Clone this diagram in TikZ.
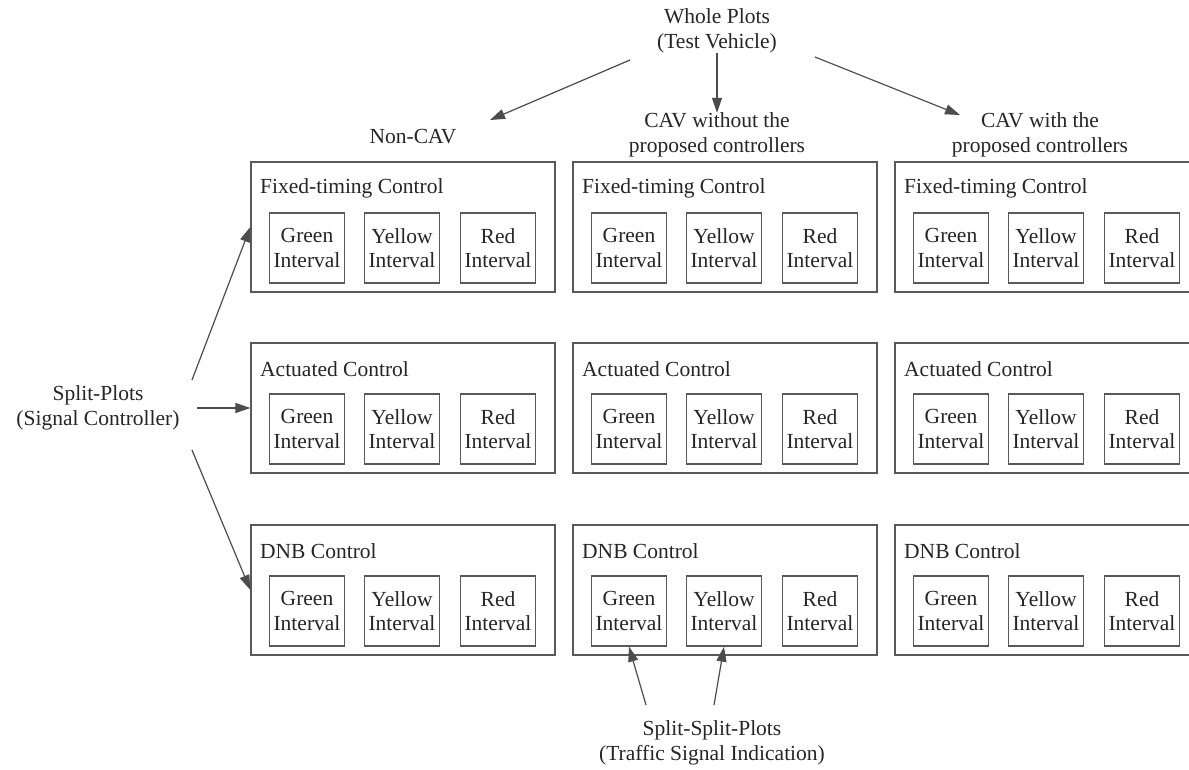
\documentclass[tikz,border=0pt]{standalone}
\usepackage{fontspec}
\setmainfont{Liberation Serif}
\usetikzlibrary{arrows.meta}
\begin{document}
\begin{tikzpicture}[x=1pt,y=-1pt,
  font=\fontsize{21.5}{24.5}\selectfont,
  txt/.style={text=black!85, align=center, inner sep=0pt},
  outerbox/.style={draw=black!65, line width=1.3pt, minimum width=304pt, minimum height=130pt, inner sep=0pt},
  inbox/.style={draw=black!65, line width=1.3pt, minimum width=75pt, minimum height=70pt, inner sep=0pt, align=center, text=black!85},
  ttl/.style={text=black!85, anchor=west, inner sep=0pt},
  arr/.style={draw=black!70, line width=1.2pt, -{Triangle[length=15pt,width=10pt]}}]
\useasboundingbox (0,0) rectangle (1189,769);
\clip (0,0) rectangle (1189,769);
\fill[white] (0,0) rectangle (1189,769);
% boxes
\foreach \c/\cx in {1/251,2/573,3/895}{
  \foreach \r/\ry/\t in {1/162/Fixed-timing Control,2/343/Actuated Control,3/525/DNB Control}{
    \node[outerbox] (box\r\c) at (\cx+152,\ry+65) {};
    \node[ttl] (ttl\r\c) at (\cx+9,\ry+26) {\t};
    \node[inbox] (g\r\c) at (\cx+56,\ry+86) {Green\\Interval};
    \node[inbox] (y\r\c) at (\cx+151,\ry+86) {Yellow\\Interval};
    \node[inbox] (rd\r\c) at (\cx+247,\ry+86) {Red\\Interval};
  }
}
% labels
\node[txt] (wp) at (717,31) {Whole Plots\\(Test Vehicle)};
\node[txt] (lab1) at (413,137) {Non-CAV};
\node[txt] (lab2) at (717,135) {CAV without the\\proposed controllers};
\node[txt] (lab3) at (1040,135) {CAV with the\\proposed controllers};
\node[txt] (sp) at (98,408) {Split-Plots\\(Signal Controller)};
\node[txt] (ssp) at (712,743) {Split-Split-Plots\\(Traffic Signal Indication)};
% arrow ends
\coordinate (wpL) at (630,60);
\coordinate (wpR) at (815,57);
\coordinate (l1) at (490,120);
\coordinate (l3) at (960,115);
\coordinate (spT) at (192,380);
\coordinate (spM) at (197,408);
\coordinate (spB) at (192,450);
\coordinate (sspL) at (646,705);
\coordinate (sspR) at (714,705);
% arrows
\draw[arr] (wpL) -- (l1);
\draw[arr] (wp.south) -- (lab2.north);
\draw[arr] (wpR) -- (l3);
\draw[arr] (spT) -- (box11.west);
\draw[arr] (spM) -- (box21.west);
\draw[arr] (spB) -- (box31.west);
\draw[arr] (sspL) -- (g32.south);
\draw[arr] (sspR) -- (y32.south);
\end{tikzpicture}
\end{document}
